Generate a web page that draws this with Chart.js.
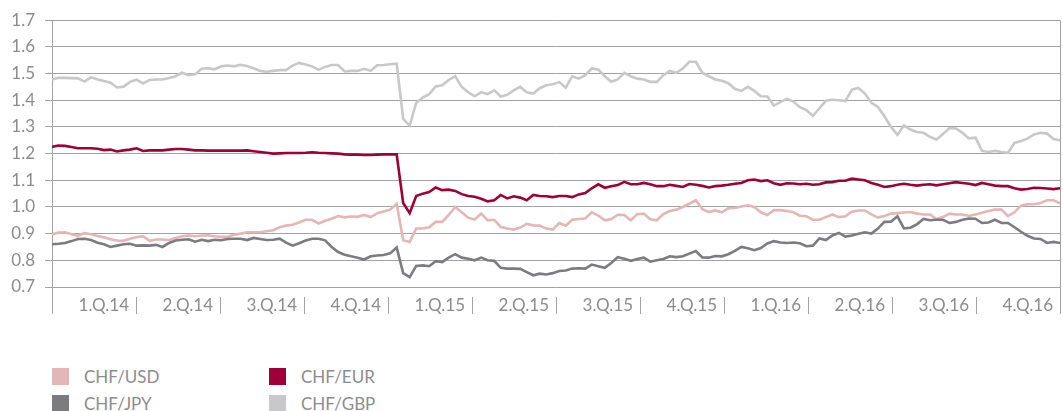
<!DOCTYPE html>
<html>
<head>
<meta charset="utf-8">
<script src="https://cdn.jsdelivr.net/npm/chart.js@4/dist/chart.umd.min.js"></script>
<style>
    html, body { margin: 0; padding: 0; background: #fff; }
    #wrap { position: relative; width: 1063px; height: 411px; overflow: hidden; }
    #chartBox { position: absolute; left: 0; top: 0; width: 1063px; height: 330px; }
    .legend { position: absolute; left: 0; top: 368px; font-family: Lato, "Open Sans", sans-serif; font-size: 17px; color: #8c8c8f; }
    .item { position: absolute; height: 17px; line-height: 17px; white-space: nowrap; }
    .item span.box { position: absolute; left: 0; top: 0; width: 17px; height: 17px; }
    .item span.txt { position: absolute; left: 32px; top: 0; }
</style>
</head>
<body>
<div id="wrap">
    <div id="chartBox"><canvas id="fxChart"></canvas></div>
    <div class="legend" id="legend"></div>
</div>
<script>
// quarter labels on the x axis
const quarters = ['1.Q.14', '2.Q.14', '3.Q.14', '4.Q.14', '1.Q.15', '2.Q.15', '3.Q.15', '4.Q.15', '1.Q.16', '2.Q.16', '3.Q.16', '4.Q.16'];
const yTicks = [0.7, 0.8, 0.9, 1.0, 1.1, 1.2, 1.3, 1.4, 1.5, 1.6, 1.7];

// weekly values, one line per quarter
const chfUsd = [
    0.897, 0.904, 0.905, 0.898, 0.892, 0.902, 0.898, 0.891, 0.886, 0.879, 0.874, 0.873, 0.881,
    0.887, 0.890, 0.873, 0.878, 0.878, 0.876, 0.884, 0.890, 0.893, 0.890, 0.893, 0.894, 0.890,
    0.888, 0.888, 0.896, 0.900, 0.905, 0.905, 0.905, 0.909, 0.913, 0.924, 0.930, 0.933, 0.942,
    0.952, 0.952, 0.938, 0.948, 0.956, 0.966, 0.961, 0.964, 0.963, 0.970, 0.962, 0.976, 0.983,
    0.990, 1.012, 0.875, 0.869, 0.919, 0.919, 0.924, 0.944, 0.944, 0.970, 1.000, 0.980, 0.960,
    0.953, 0.975, 0.950, 0.952, 0.925, 0.919, 0.915, 0.923, 0.937, 0.931, 0.930, 0.919, 0.915,
    0.940, 0.930, 0.952, 0.955, 0.957, 0.980, 0.968, 0.950, 0.955, 0.971, 0.970, 0.950, 0.973,
    0.975, 0.954, 0.950, 0.973, 0.985, 0.990, 1.000, 1.012, 1.025, 0.992, 0.981, 0.987, 0.980,
    0.995, 0.996, 1.002, 1.006, 1.000, 0.980, 0.970, 0.988, 0.988, 0.985, 0.980, 0.967, 0.965,
    0.952, 0.952, 0.962, 0.972, 0.962, 0.965, 0.982, 0.987, 0.987, 0.972, 0.960, 0.966, 0.975,
    0.977, 0.979, 0.981, 0.975, 0.972, 0.972, 0.955, 0.962, 0.975, 0.972, 0.972, 0.966, 0.972,
    0.978, 0.985, 0.990, 0.990, 0.966, 0.980, 1.005, 1.010, 1.010, 1.015, 1.025, 1.025, 1.014
];

const chfEur = [
    1.225, 1.230, 1.229, 1.225, 1.220, 1.220, 1.220, 1.218, 1.213, 1.215, 1.208, 1.212, 1.215,
    1.220, 1.210, 1.212, 1.212, 1.212, 1.215, 1.217, 1.217, 1.215, 1.212, 1.212, 1.211, 1.211,
    1.211, 1.211, 1.211, 1.211, 1.212, 1.209, 1.206, 1.203, 1.200, 1.201, 1.202, 1.202, 1.202,
    1.203, 1.205, 1.203, 1.202, 1.201, 1.200, 1.197, 1.196, 1.196, 1.195, 1.195, 1.196, 1.197,
    1.197, 1.197, 1.015, 0.977, 1.041, 1.050, 1.056, 1.073, 1.063, 1.065, 1.060, 1.048, 1.041,
    1.038, 1.031, 1.021, 1.025, 1.045, 1.032, 1.040, 1.035, 1.025, 1.045, 1.041, 1.040, 1.037,
    1.041, 1.041, 1.037, 1.047, 1.052, 1.070, 1.085, 1.072, 1.078, 1.082, 1.094, 1.085, 1.085,
    1.090, 1.085, 1.078, 1.078, 1.083, 1.079, 1.075, 1.086, 1.083, 1.079, 1.073, 1.078, 1.080,
    1.083, 1.087, 1.090, 1.100, 1.103, 1.097, 1.100, 1.089, 1.083, 1.089, 1.088, 1.085, 1.087,
    1.083, 1.085, 1.092, 1.093, 1.098, 1.098, 1.106, 1.103, 1.100, 1.090, 1.083, 1.075, 1.078,
    1.083, 1.087, 1.083, 1.080, 1.083, 1.085, 1.081, 1.085, 1.089, 1.093, 1.090, 1.087, 1.082,
    1.090, 1.085, 1.080, 1.078, 1.078, 1.070, 1.065, 1.067, 1.072, 1.071, 1.069, 1.067, 1.070
];

const chfJpy = [
    0.860, 0.862, 0.865, 0.872, 0.880, 0.881, 0.876, 0.866, 0.860, 0.850, 0.855, 0.860, 0.862,
    0.855, 0.856, 0.855, 0.858, 0.850, 0.865, 0.874, 0.877, 0.879, 0.870, 0.877, 0.872, 0.877,
    0.875, 0.880, 0.881, 0.881, 0.876, 0.884, 0.880, 0.876, 0.877, 0.881, 0.866, 0.855, 0.864,
    0.874, 0.881, 0.881, 0.875, 0.850, 0.831, 0.821, 0.815, 0.810, 0.803, 0.815, 0.818, 0.820,
    0.826, 0.848, 0.752, 0.737, 0.779, 0.781, 0.778, 0.797, 0.793, 0.810, 0.823, 0.810, 0.806,
    0.800, 0.810, 0.800, 0.798, 0.772, 0.769, 0.769, 0.768, 0.756, 0.744, 0.750, 0.747, 0.752,
    0.760, 0.762, 0.769, 0.770, 0.769, 0.784, 0.778, 0.772, 0.790, 0.812, 0.806, 0.798, 0.805,
    0.810, 0.795, 0.800, 0.805, 0.815, 0.812, 0.815, 0.825, 0.835, 0.811, 0.810, 0.816, 0.815,
    0.823, 0.835, 0.850, 0.845, 0.838, 0.846, 0.863, 0.872, 0.867, 0.865, 0.867, 0.864, 0.853,
    0.855, 0.882, 0.876, 0.893, 0.903, 0.889, 0.893, 0.900, 0.905, 0.900, 0.919, 0.944, 0.945,
    0.965, 0.920, 0.922, 0.935, 0.955, 0.950, 0.952, 0.952, 0.940, 0.944, 0.952, 0.957, 0.956,
    0.940, 0.942, 0.952, 0.940, 0.940, 0.924, 0.907, 0.892, 0.882, 0.880, 0.865, 0.869, 0.865
];

const chfGbp = [
    1.478, 1.484, 1.484, 1.483, 1.482, 1.470, 1.486, 1.478, 1.472, 1.466, 1.448, 1.451, 1.469,
    1.477, 1.463, 1.476, 1.478, 1.478, 1.483, 1.490, 1.503, 1.494, 1.497, 1.518, 1.520, 1.516,
    1.527, 1.530, 1.527, 1.533, 1.528, 1.520, 1.510, 1.507, 1.510, 1.513, 1.513, 1.530, 1.540,
    1.534, 1.527, 1.514, 1.525, 1.532, 1.532, 1.508, 1.510, 1.510, 1.518, 1.510, 1.531, 1.532,
    1.535, 1.537, 1.330, 1.305, 1.390, 1.410, 1.423, 1.452, 1.456, 1.476, 1.490, 1.450, 1.430,
    1.415, 1.430, 1.423, 1.437, 1.414, 1.420, 1.437, 1.450, 1.430, 1.425, 1.445, 1.456, 1.460,
    1.468, 1.447, 1.490, 1.481, 1.494, 1.519, 1.515, 1.490, 1.469, 1.478, 1.503, 1.490, 1.481,
    1.478, 1.469, 1.469, 1.494, 1.510, 1.503, 1.519, 1.544, 1.544, 1.503, 1.490, 1.478, 1.473,
    1.464, 1.443, 1.435, 1.450, 1.435, 1.415, 1.414, 1.380, 1.393, 1.405, 1.395, 1.374, 1.363,
    1.341, 1.370, 1.398, 1.402, 1.400, 1.397, 1.440, 1.446, 1.425, 1.390, 1.375, 1.340, 1.300,
    1.270, 1.305, 1.290, 1.281, 1.278, 1.263, 1.253, 1.273, 1.296, 1.294, 1.278, 1.257, 1.260,
    1.210, 1.206, 1.210, 1.206, 1.203, 1.240, 1.247, 1.256, 1.272, 1.278, 1.275, 1.255, 1.250
];

const colors = {
    usd: '#e4b6b6',
    eur: '#9d0036',
    jpy: '#7b7b80',
    gbp: '#c8c8ca'
};
const gridColor = '#a3a3a3';
const textColor = '#8c8c8f';
const fontFamily = 'Lato, "Open Sans", sans-serif';

// x position in quarter units so the quarter ticks fall on whole numbers
const toPoints = arr => arr.map((v, i) => ({ x: i * quarters.length / (arr.length - 1), y: v }));

const series = [
    { label: 'CHF/JPY', data: chfJpy, color: colors.jpy },
    { label: 'CHF/USD', data: chfUsd, color: colors.usd },
    { label: 'CHF/EUR', data: chfEur, color: colors.eur },
    { label: 'CHF/GBP', data: chfGbp, color: colors.gbp }
];

new Chart(document.getElementById('fxChart'), {
    type: 'line',
    data: {
        datasets: series.map(s => ({
            label: s.label,
            data: toPoints(s.data),
            borderColor: s.color,
            backgroundColor: s.color,
            borderWidth: 2.6,
            pointRadius: 0,
            tension: 0,
            fill: false
        }))
    },
    options: {
        responsive: true,
        maintainAspectRatio: false,
        animation: false,
        layout: { padding: { top: 20, right: 3, left: 0, bottom: 0 } },
        plugins: {
            legend: { display: false },
            tooltip: { enabled: false }
        },
        scales: {
            x: {
                type: 'linear',
                min: 0,
                max: quarters.length,
                afterFit: scale => { scale.height = 43; },
                border: { display: false },
                grid: {
                    drawOnChartArea: true,
                    color: ctx => (ctx.tick && ctx.tick.value === quarters.length) ? gridColor : 'rgba(0,0,0,0)',
                    tickColor: gridColor,
                    tickLength: 27,
                    tickBorderDash: ctx => (ctx.tick && ctx.tick.value > 0 && ctx.tick.value < quarters.length) ? [17, 10] : [],
                    tickBorderDashOffset: 17
                },
                ticks: {
                    stepSize: 1,
                    autoSkip: false,
                    maxRotation: 0,
                    align: 'end',
                    labelOffset: -7,
                    padding: -19,
                    color: textColor,
                    font: { family: fontFamily, size: 17 },
                    callback: value => value >= 1 ? quarters[value - 1] : ''
                }
            },
            y: {
                min: yTicks[0],
                max: yTicks[yTicks.length - 1],
                afterFit: scale => { scale.width = 52; },
                afterBuildTicks: scale => { scale.ticks = yTicks.map(v => ({ value: v })); },
                border: { display: true, color: gridColor, width: 1 },
                grid: {
                    color: gridColor,
                    tickColor: gridColor,
                    tickLength: 7,
                    lineWidth: 1
                },
                ticks: {
                    padding: 10,
                    color: textColor,
                    font: { family: fontFamily, size: 17 },
                    callback: value => value.toFixed(1)
                }
            }
        }
    }
});

// legend in two columns, as in the reference
const legendItems = [
    { label: 'CHF/USD', color: colors.usd, left: 52, top: 0 },
    { label: 'CHF/EUR', color: colors.eur, left: 269, top: 0 },
    { label: 'CHF/JPY', color: colors.jpy, left: 52, top: 27 },
    { label: 'CHF/GBP', color: colors.gbp, left: 269, top: 27 }
];
document.getElementById('legend').innerHTML = legendItems.map(item => `
    <div class="item" style="left:${item.left}px; top:${item.top}px;">
        <span class="box" style="background:${item.color}"></span>
        <span class="txt">${item.label}</span>
    </div>
`).join('');
</script>
</body>
</html>
